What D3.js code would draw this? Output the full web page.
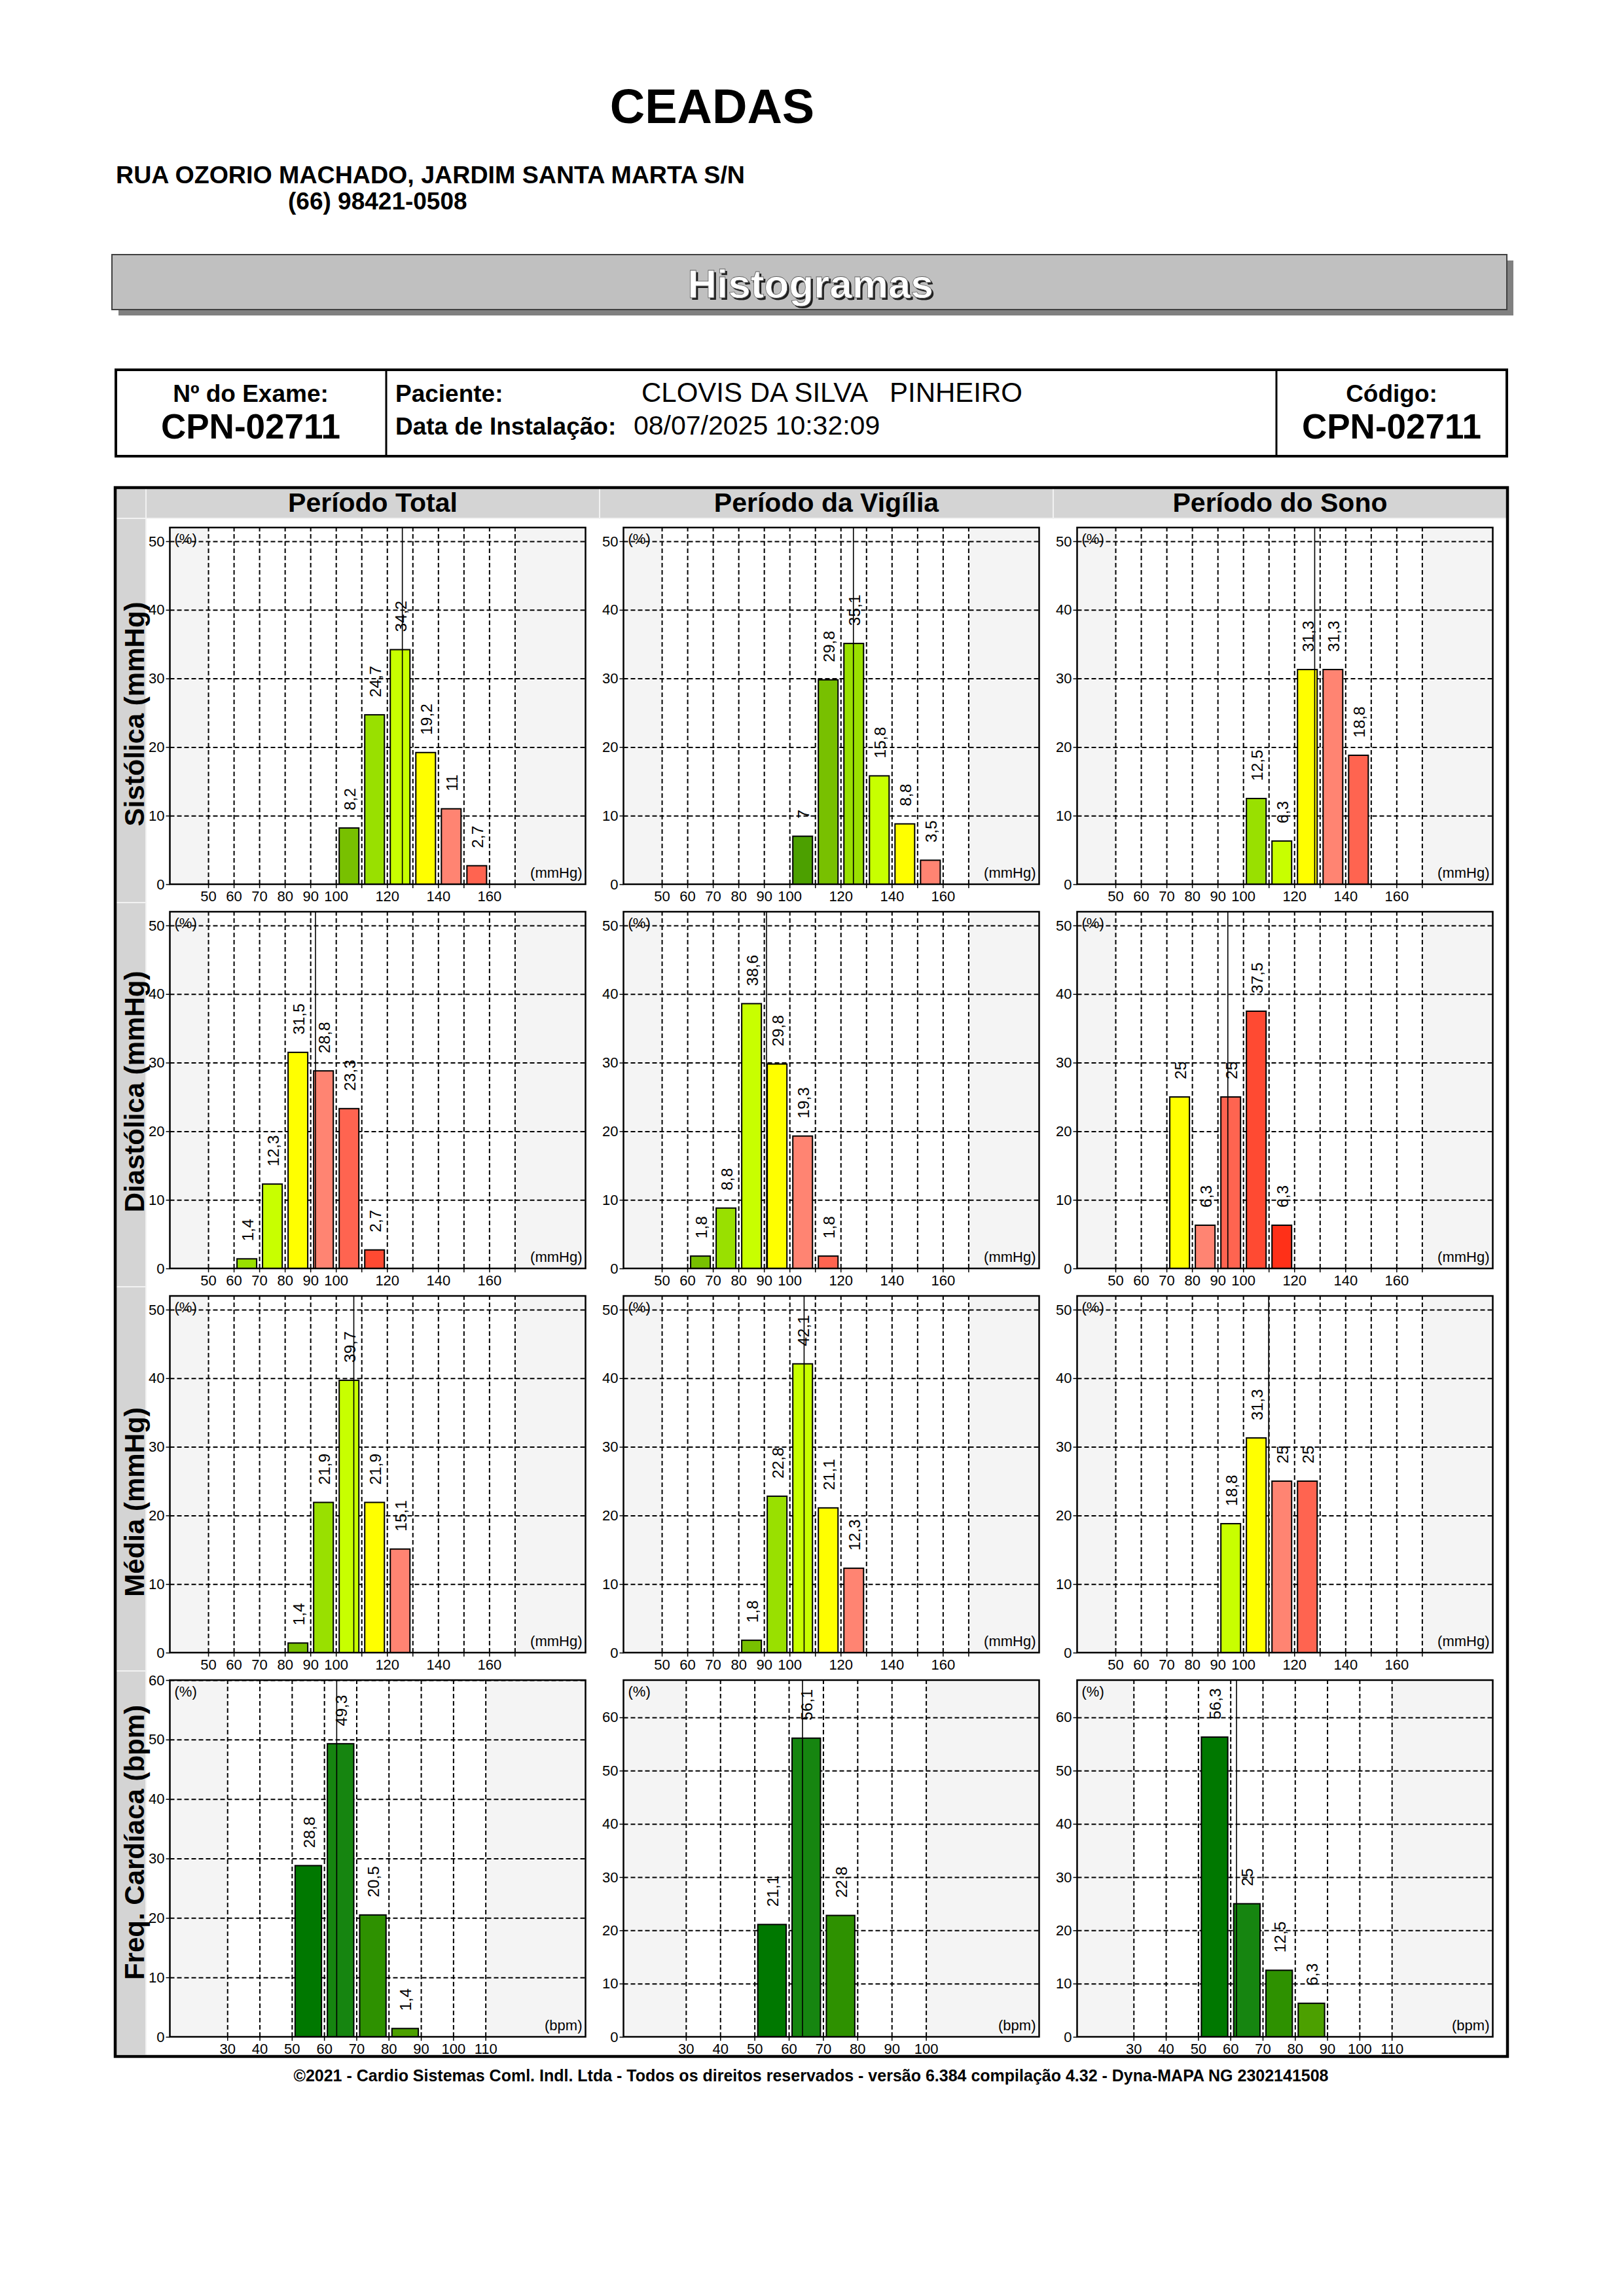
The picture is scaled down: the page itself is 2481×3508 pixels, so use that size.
<!DOCTYPE html>
<html>
<head>
<meta charset="utf-8">
<script src="https://cdn.jsdelivr.net/npm/d3@7"></script>
<style>
  body { margin: 0; background: #fff; }
  svg { display: block; font-family: "Liberation Sans", Arial, sans-serif; }
</style>
</head>
<body>
<div id="page"></div>
<script>
var svgWidth = 2481;
var svgHeight = 3508;

// ---- data ----
var periods = ["Período Total", "Período da Vigília", "Período do Sono"];
var measures = ["Sistólica (mmHg)", "Diastólica (mmHg)", "Média (mmHg)", "Freq. Cardíaca (bpm)"];

// histogram bins: [lower bound of the 10-unit class, % of readings]
var sistTotal   = [[100, 8.2], [110, 24.7], [120, 34.2], [130, 19.2], [140, 11], [150, 2.7]];
var sistVigilia = [[100, 7], [110, 29.8], [120, 35.1], [130, 15.8], [140, 8.8], [150, 3.5]];
var sistSono    = [[100, 12.5], [110, 6.3], [120, 31.3], [130, 31.3], [140, 18.8]];

var diasTotal   = [[60, 1.4], [70, 12.3], [80, 31.5], [90, 28.8], [100, 23.3], [110, 2.7]];
var diasVigilia = [[60, 1.8], [70, 8.8], [80, 38.6], [90, 29.8], [100, 19.3], [110, 1.8]];
var diasSono    = [[70, 25], [80, 6.3], [90, 25], [100, 37.5], [110, 6.3]];

var mediaTotal   = [[80, 1.4], [90, 21.9], [100, 39.7], [110, 21.9], [120, 15.1]];
var mediaVigilia = [[80, 1.8], [90, 22.8], [100, 42.1], [110, 21.1], [120, 12.3]];
var mediaSono    = [[90, 18.8], [100, 31.3], [110, 25], [120, 25]];

var fcTotal   = [[50, 28.8], [60, 49.3], [70, 20.5], [80, 1.4]];
var fcVigilia = [[50, 21.1], [60, 56.1], [70, 22.8]];
var fcSono    = [[50, 56.3], [60, 25], [70, 12.5], [80, 6.3]];

// mean (vertical line) of each histogram
var sistMeans  = [126, 125, 128];
var diasMeans  = [92, 91, 94];
var mediaMeans = [107, 105.7, 110];
var fcMeans    = [63.9, 64, 61.9];

// first class that falls in the yellow band, per period
var sistLimits  = [130, 140, 120];
var diasLimits  = [80, 90, 70];
var mediaLimits = [110, 110, 100];

// axes
var bpTickLabels = [50, 60, 70, 80, 90, 100, 120, 140, 160];
var bpGrid = [50, 60, 70, 80, 90, 100, 110, 120, 130, 140, 150, 160, 170];
var bpDomain = [35, 197.7];
var bpYTicks = [0, 10, 20, 30, 40, 50];
var bpYMax = 52;

var fcTickLabels = [
  [30, 40, 50, 60, 70, 80, 90, 100, 110],
  [30, 40, 50, 60, 70, 80, 90, 100],
  [30, 40, 50, 60, 70, 80, 90, 100, 110]
];
var fcDomains = [[12.2, 141], [11.8, 133], [12.5, 141.3]];
var fcYTicks = [0, 10, 20, 30, 40, 50, 60];
var fcYMax = [60, 67, 67];

// colours
var bpColors = ["#2a9000", "#4ca000", "#78c000", "#99e000", "#c8ff00", "#ffff00",
                "#ff8472", "#ff6450", "#ff4a32", "#ff3018"];
var fcColors = ["#007800", "#168510", "#2e9100", "#4ca000"];

// ---- layout ----
var frame = {left: 176, right: 2303, top: 745, bottom: 3142};
var stripRight = 223;
var colLefts = [223, 916, 1609];
var colWidth = 693;
var headerBottom = 792;
var rowHeight = 587;
var rowLabelY = [1091, 1668, 2295, 2815];
var plotW = 635, plotH = 545;
var font = "'Liberation Sans', Arial, sans-serif";

var svg = d3.select("#page")
  .append("svg")
  .attr("width", svgWidth)
  .attr("height", svgHeight);

svg.append("rect").attr("width", svgWidth).attr("height", svgHeight).attr("fill", "#fff");

// ---- page header ----
svg.append("text")
  .attr("x", 1088).attr("y", 188)
  .attr("text-anchor", "middle")
  .attr("font-size", 74).attr("font-weight", "bold")
  .text("CEADAS");

svg.append("text")
  .attr("x", 177).attr("y", 280)
  .attr("font-size", 37.6).attr("font-weight", "bold")
  .text("RUA OZORIO MACHADO, JARDIM SANTA MARTA S/N");

svg.append("text")
  .attr("x", 440).attr("y", 320)
  .attr("font-size", 37).attr("font-weight", "bold")
  .text("(66) 98421-0508");

// banner
svg.append("rect")
  .attr("x", 181).attr("y", 398).attr("width", 2131).attr("height", 84)
  .attr("fill", "#808080");
svg.append("rect")
  .attr("x", 171).attr("y", 389).attr("width", 2131).attr("height", 84)
  .attr("fill", "#c0c0c0").attr("stroke", "#404040").attr("stroke-width", 2);
svg.append("text")
  .attr("x", 1241).attr("y", 458)
  .attr("text-anchor", "middle")
  .attr("font-size", 62).attr("font-weight", "bold")
  .attr("fill", "#202020")
  .text("Histogramas");
svg.append("text")
  .attr("x", 1238).attr("y", 455)
  .attr("text-anchor", "middle")
  .attr("font-size", 62).attr("font-weight", "bold")
  .attr("fill", "#fff").attr("stroke", "#606060").attr("stroke-width", 0.8)
  .text("Histogramas");

// patient box
svg.append("rect")
  .attr("x", 177).attr("y", 565).attr("width", 2125).attr("height", 132)
  .attr("fill", "none").attr("stroke", "#000").attr("stroke-width", 4);
[590, 1950].forEach(function(x) {
  svg.append("line")
    .attr("x1", x).attr("x2", x).attr("y1", 565).attr("y2", 697)
    .attr("stroke", "#000").attr("stroke-width", 3);
});

svg.append("text").attr("x", 383).attr("y", 614).attr("text-anchor", "middle")
  .attr("font-size", 37).attr("font-weight", "bold").text("Nº do Exame:");
svg.append("text").attr("x", 383).attr("y", 670).attr("text-anchor", "middle")
  .attr("font-size", 53).attr("font-weight", "bold").text("CPN-02711");
svg.append("text").attr("x", 2126).attr("y", 614).attr("text-anchor", "middle")
  .attr("font-size", 37).attr("font-weight", "bold").text("Código:");
svg.append("text").attr("x", 2126).attr("y", 670).attr("text-anchor", "middle")
  .attr("font-size", 53).attr("font-weight", "bold").text("CPN-02711");

svg.append("text").attr("x", 604).attr("y", 614)
  .attr("font-size", 37).attr("font-weight", "bold").text("Paciente:");
svg.append("text").attr("x", 980).attr("y", 614)
  .attr("font-size", 42).style("white-space", "pre").text("CLOVIS DA SILVA   PINHEIRO");
svg.append("text").attr("x", 604).attr("y", 664)
  .attr("font-size", 37).attr("font-weight", "bold").text("Data de Instalação:");
svg.append("text").attr("x", 968).attr("y", 664)
  .attr("font-size", 41).text("08/07/2025 10:32:09");

// ---- histogram grid frame ----
svg.append("rect")
  .attr("x", frame.left).attr("y", frame.top)
  .attr("width", stripRight - frame.left).attr("height", headerBottom - frame.top)
  .attr("fill", "#d4d4d4");

periods.forEach(function(p, c) {
  svg.append("rect")
    .attr("x", colLefts[c]).attr("y", frame.top)
    .attr("width", colWidth).attr("height", headerBottom - frame.top)
    .attr("fill", "#d4d4d4").attr("stroke", "#f2f2f2").attr("stroke-width", 2);
  svg.append("text")
    .attr("x", colLefts[c] + colWidth / 2).attr("y", 782)
    .attr("text-anchor", "middle")
    .attr("font-size", 41).attr("font-weight", "bold")
    .text(p);
});

measures.forEach(function(m, r) {
  var top = headerBottom + r * rowHeight;
  svg.append("rect")
    .attr("x", frame.left).attr("y", top)
    .attr("width", stripRight - frame.left).attr("height", rowHeight)
    .attr("fill", "#d4d4d4").attr("stroke", "#f2f2f2").attr("stroke-width", 2);
  svg.append("text")
    .attr("transform", "translate(220," + rowLabelY[r] + ") rotate(-90)")
    .attr("text-anchor", "middle")
    .attr("font-size", 42).attr("font-weight", "bold")
    .text(m);
});

// ---- one histogram ----
function drawHistogram(r, c, cfg) {
  var gx = colLefts[c] + 36.5;
  var gy = headerBottom + r * rowHeight + 14;
  var g = svg.append("g").attr("transform", "translate(" + gx + "," + gy + ")");

  var x = d3.scaleLinear().domain(cfg.xDomain).range([0, plotW]);
  var y = d3.scaleLinear().domain([0, cfg.yMax]).range([plotH, 0]);

  // backgrounds
  g.append("rect").attr("width", plotW).attr("height", plotH).attr("fill", "#f4f4f4");
  g.append("rect")
    .attr("x", x(cfg.grid[0]))
    .attr("width", x(cfg.grid[cfg.grid.length - 1]) - x(cfg.grid[0]))
    .attr("height", plotH)
    .attr("fill", "#fff");

  // dashed grid
  var hGrid = g.append("g")
    .call(d3.axisLeft(y).tickValues(cfg.yTicks.filter(function(d) { return d > 0; }))
      .tickSize(-plotW).tickFormat(""));
  var vGrid = g.append("g")
    .attr("transform", "translate(0," + plotH + ")")
    .call(d3.axisBottom(x).tickValues(cfg.grid).tickSize(-plotH).tickFormat(""));
  [hGrid, vGrid].forEach(function(a) {
    a.select(".domain").remove();
    a.selectAll("line")
      .attr("stroke", "#000").attr("stroke-width", 2).attr("stroke-dasharray", "7,4");
  });

  // bars
  g.selectAll("rect.bar")
    .data(cfg.data)
    .enter()
    .append("rect")
    .attr("class", "bar")
    .attr("x", function(d) { return x(d[0]) + 5; })
    .attr("width", function(d) { return x(d[0] + 10) - x(d[0]) - 9; })
    .attr("y", function(d) { return y(d[1]); })
    .attr("height", function(d) { return plotH - y(d[1]); })
    .attr("fill", cfg.color)
    .attr("stroke", "#000")
    .attr("stroke-width", 2);

  // mean line
  g.append("line")
    .attr("x1", x(cfg.mean)).attr("x2", x(cfg.mean))
    .attr("y1", 0).attr("y2", plotH)
    .attr("stroke", "#000").attr("stroke-width", 1.6);

  // value labels
  g.selectAll("text.val")
    .data(cfg.data)
    .enter()
    .append("text")
    .attr("class", "val")
    .attr("transform", function(d) {
      var cx = (x(d[0] + 5)) + 10;
      return "translate(" + cx + "," + (y(d[1]) - 27) + ") rotate(-90)";
    })
    .attr("font-size", 24.5)
    .text(function(d) { return String(d[1]).replace(".", ","); });

  // frame
  g.append("rect")
    .attr("width", plotW).attr("height", plotH)
    .attr("fill", "none").attr("stroke", "#000").attr("stroke-width", 2.5);

  // y axis
  var yAxis = g.append("g")
    .call(d3.axisLeft(y).tickValues(cfg.yTicks).tickSize(6).tickPadding(2));
  yAxis.select(".domain").remove();
  yAxis.selectAll("line").attr("stroke", "#000").attr("stroke-width", 1.5);
  yAxis.selectAll("text").attr("font-size", 22).attr("font-family", font).attr("fill", "#000");

  // x axis
  var xAxis = g.append("g")
    .attr("transform", "translate(0," + plotH + ")")
    .call(d3.axisBottom(x).tickValues(cfg.grid).tickSize(6).tickPadding(4)
      .tickFormat(function(d) { return cfg.labels.indexOf(d) >= 0 ? d : ""; }));
  xAxis.select(".domain").remove();
  xAxis.selectAll("line").attr("stroke", "#000").attr("stroke-width", 1.5);
  xAxis.selectAll("text").attr("font-size", 22).attr("font-family", font).attr("fill", "#000");

  g.append("text")
    .attr("x", 7).attr("y", 25)
    .attr("font-size", 22)
    .text("(%)");
  g.append("text")
    .attr("x", plotW - 5).attr("y", plotH - 10)
    .attr("text-anchor", "end")
    .attr("font-size", 22)
    .text(cfg.unit);
}

function bpColor(limit) {
  return function(d) { return bpColors[5 + (d[0] - limit) / 10]; };
}
function fcColor(d) { return fcColors[(d[0] - 50) / 10]; }

var bpRows = [
  {series: [sistTotal, sistVigilia, sistSono], means: sistMeans, limits: sistLimits},
  {series: [diasTotal, diasVigilia, diasSono], means: diasMeans, limits: diasLimits},
  {series: [mediaTotal, mediaVigilia, mediaSono], means: mediaMeans, limits: mediaLimits}
];

bpRows.forEach(function(row, r) {
  row.series.forEach(function(s, c) {
    drawHistogram(r, c, {
      data: s, mean: row.means[c], color: bpColor(row.limits[c]),
      xDomain: bpDomain, grid: bpGrid, labels: bpTickLabels,
      yMax: bpYMax, yTicks: bpYTicks, unit: "(mmHg)"
    });
  });
});

[fcTotal, fcVigilia, fcSono].forEach(function(s, c) {
  drawHistogram(3, c, {
    data: s, mean: fcMeans[c], color: fcColor,
    xDomain: fcDomains[c], grid: fcTickLabels[c], labels: fcTickLabels[c],
    yMax: fcYMax[c], yTicks: fcYTicks, unit: "(bpm)"
  });
});

// outer frame on top
svg.append("rect")
  .attr("x", frame.left).attr("y", frame.top)
  .attr("width", frame.right - frame.left).attr("height", frame.bottom - frame.top)
  .attr("fill", "none").attr("stroke", "#000").attr("stroke-width", 4.5);

// footer
svg.append("text")
  .attr("x", 1239).attr("y", 3180)
  .attr("text-anchor", "middle")
  .attr("font-size", 25).attr("font-weight", "bold")
  .text("©2021 - Cardio Sistemas Coml. Indl. Ltda - Todos os direitos reservados - versão 6.384 compilação 4.32 - Dyna-MAPA NG 2302141508");
</script>
</body>
</html>
